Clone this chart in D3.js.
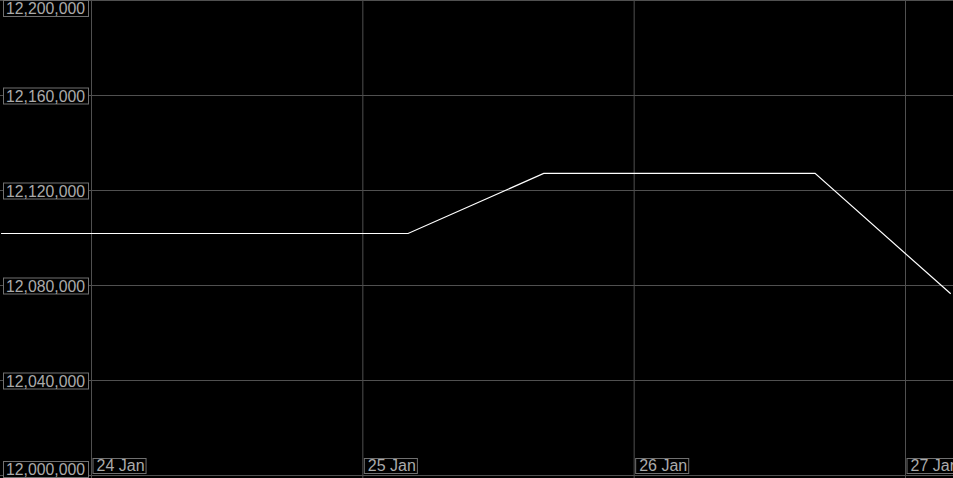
<!DOCTYPE html>
<html><head><meta charset="utf-8">
<script src="https://cdn.jsdelivr.net/npm/d3@7"></script>
<style>html,body{margin:0;padding:0;background:#000;overflow:hidden}svg{display:block}</style>
</head><body>
<svg id="c" width="953" height="478"></svg>
<script>
const times = ["2023-01-23T16:00Z","2023-01-24T04:00Z","2023-01-24T16:00Z","2023-01-25T04:00Z","2023-01-25T16:00Z","2023-01-26T04:00Z","2023-01-26T16:00Z","2023-01-27T04:00Z"];
const values = [12101900,12101900,12101900,12101900,12127200,12127200,12127200,12076500];
const yTicks = [12000000,12040000,12080000,12120000,12160000,12200000];
const xTicks = ["2023-01-24T00:00Z","2023-01-25T00:00Z","2023-01-26T00:00Z","2023-01-27T00:00Z"];
const xTickLabels = ["24 Jan","25 Jan","26 Jan","27 Jan"];

const W=953,H=478;
const svg=d3.select("#c");
svg.append("rect").attr("width",W).attr("height",H).attr("fill","#000");
const x=d3.scaleUtc().domain([new Date("2023-01-24T00:00Z"),new Date("2023-01-27T00:00Z")]).range([91.5,905.5]);
const y=d3.scaleLinear().domain([12000000,12200000]).range([475.5,0.5]);
const grid="#505050";
const g=svg.append("g");
g.selectAll("line.h").data(yTicks).join("line").attr("class","h")
 .attr("x1",0).attr("x2",W).attr("y1",d=>y(d)).attr("y2",d=>y(d)).attr("stroke",grid).attr("stroke-width",1);
g.selectAll("line.v").data(xTicks).join("line").attr("class","v")
 .attr("x1",d=>x(new Date(d))).attr("x2",d=>x(new Date(d))).attr("y1",0).attr("y2",H).attr("stroke",grid).attr("stroke-width",1);

const data=times.map((t,i)=>({t:new Date(t),v:values[i]}));
svg.append("path").datum(data).attr("fill","none").attr("stroke","#fff").attr("stroke-width",1.2)
 .attr("d",d3.line().x(d=>x(d.t)).y(d=>y(d.v)));

const fmt=d3.format(",");
const lab=svg.append("g").attr("font-family","'Liberation Sans',Arial,sans-serif").attr("font-size",16).attr("fill","#ababab");
yTicks.forEach(v=>{
  const h=16;
  let top=y(v)-h/2+0.5;
  top=Math.max(0.5,Math.min(477.5-h,top));
  lab.append("rect").attr("x",3.5).attr("y",top).attr("width",85).attr("height",h).attr("fill","#000").attr("stroke","#707070");
  lab.append("text").attr("x",6).attr("y",top+13.5).attr("textLength",79).attr("lengthAdjust","spacingAndGlyphs").text(fmt(v));
});
xTicks.forEach((t,i)=>{
  const px=x(new Date(t));
  const tx=lab.append("text").attr("x",px+5).attr("y",471).text(xTickLabels[i]);
  const w=tx.node().getComputedTextLength();
  lab.insert("rect","text").attr("x",px+1.5).attr("y",458.5).attr("width",w+5).attr("height",15).attr("fill","#000").attr("stroke","#707070");
});
</script>
</body></html>
